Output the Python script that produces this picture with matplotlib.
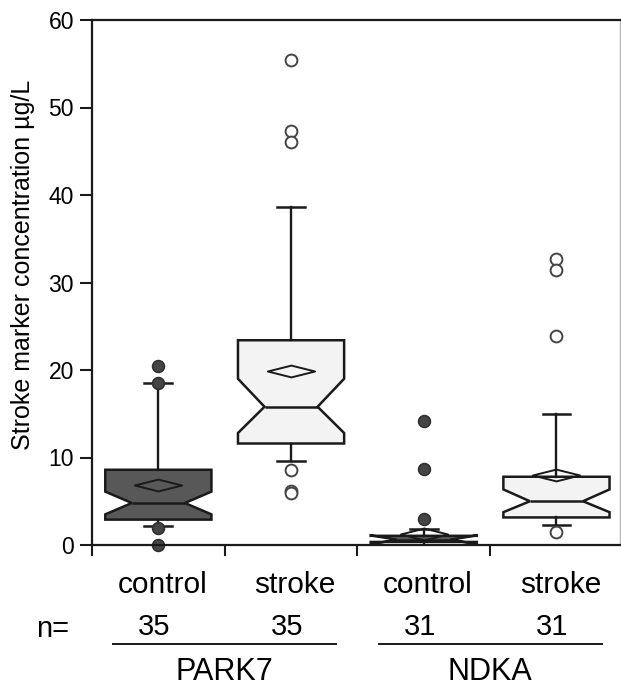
import numpy as np
import matplotlib.pyplot as plt
import matplotlib.transforms as mtransforms
from matplotlib.path import Path

plt.rcParams['font.family'] = ['Liberation Sans', 'DejaVu Sans']

# data (ug/L)
markers = ['PARK7', 'NDKA']
groups = ['control', 'stroke', 'control', 'stroke']
n_counts = [35, 35, 31, 31]
q1 = [2.9, 11.6, 0.35, 3.15]
median = [4.8, 15.8, 0.6, 5.0]
q3 = [8.6, 23.4, 1.05, 7.8]
notch_lo = [3.5, 12.8, 0.1, 3.75]
notch_hi = [6.1, 19.0, 1.1, 6.35]
whisk_lo = [2.15, 9.6, 0.05, 2.3]
whisk_hi = [18.55, 38.6, 1.85, 14.95]
means = [6.85, 19.9, 1.25, 8.0]
outliers = [[20.5, 18.5, 2.0, 0.0],
            [55.4, 47.3, 46.1, 8.6, 6.2, 5.9],
            [14.2, 8.65, 2.95],
            [32.7, 31.4, 23.9, 1.5]]

positions = np.arange(1, len(groups) + 1)
stats = []
for i in range(len(groups)):
    stats.append(dict(med=median[i], q1=q1[i], q3=q3[i], cilo=notch_lo[i], cihi=notch_hi[i],
                      whislo=whisk_lo[i], whishi=whisk_hi[i], mean=means[i],
                      fliers=np.array(outliers[i]), label=groups[i]))

edge = '#1a1a1a'
fill = {'control': '#585858', 'stroke': '#f3f3f3'}
diamond = Path([(-1, 0), (0, 0.25), (1, 0), (0, -0.25), (-1, 0)],
               [Path.MOVETO, Path.LINETO, Path.LINETO, Path.LINETO, Path.CLOSEPOLY])

fig = plt.figure(figsize=(6.21, 6.87), dpi=100)
ax = fig.add_axes([92 / 621, 142 / 687, 528 / 621, 525 / 687])

art = ax.bxp(stats, positions=positions, widths=0.8, capwidths=0.21,
             shownotches=True, showmeans=True, meanline=False, patch_artist=True,
             boxprops=dict(edgecolor=edge, linewidth=1.8),
             whiskerprops=dict(color=edge, linewidth=1.7),
             capprops=dict(color=edge, linewidth=1.8),
             medianprops=dict(color=edge, linewidth=1.8),
             meanprops=dict(marker=diamond, markersize=34, markerfacecolor='none',
                            markeredgecolor=edge, markeredgewidth=1.4),
             flierprops=dict(marker='o', markersize=8.5, linestyle='none'))

for i, g in enumerate(groups):
    art['boxes'][i].set_facecolor(fill[g])
    fl = art['fliers'][i]
    if g == 'control':
        fl.set_markerfacecolor('#454545')
        fl.set_markeredgecolor('#303030')
        fl.set_markeredgewidth(1.2)
    else:
        fl.set_markerfacecolor('white')
        fl.set_markeredgecolor('#444444')
        fl.set_markeredgewidth(1.4)
    fl.set_clip_on(False)

ax.set_xlim(0.5, 0.5 + 528 / 132.7)
ax.set_ylim(0, 60)
ax.set_yticks(np.arange(0, 61, 10))
ax.set_xticks(positions - 0.5)
ax.set_xticklabels([])
ax.tick_params(axis='y', direction='out', length=9, width=1.5, color=edge,
               labelsize=16.5, pad=4)
ax.tick_params(axis='x', direction='out', length=8, width=1.5, color=edge)
for s in ['left', 'top', 'bottom']:
    ax.spines[s].set_color(edge)
    ax.spines[s].set_linewidth(1.6)
ax.spines['right'].set_color('#b5b5b5')
ax.spines['right'].set_linewidth(1.0)

ax.set_ylabel('Stroke marker concentration µg/L', fontsize=18)
ax.yaxis.set_label_coords(-0.108, 0.533)

# labels below the axis
trans = mtransforms.blended_transform_factory(ax.transData, fig.transFigure)
for i, g in enumerate(groups):
    ax.text(positions[i] + 0.03, 1 - 593 / 687, g, transform=trans, ha='center',
            va='baseline', fontsize=21.5)
    ax.text(positions[i] - 0.03, 1 - 635 / 687, str(n_counts[i]), transform=trans,
            ha='center', va='baseline', fontsize=21)
ax.text(0.206, 1 - 637 / 687, 'n=', transform=trans, ha='center', va='baseline', fontsize=21)

for k, m in enumerate(markers):
    center = positions[2 * k:2 * k + 2].mean()
    ax.plot([center - 0.84, center + 0.84], [1 - 644 / 687] * 2, transform=trans,
            color=edge, linewidth=1.4, clip_on=False)
    ax.text(center, 1 - 680 / 687, m, transform=trans, ha='center', va='baseline',
            fontsize=22)

fig.savefig('out.png', dpi=100)
